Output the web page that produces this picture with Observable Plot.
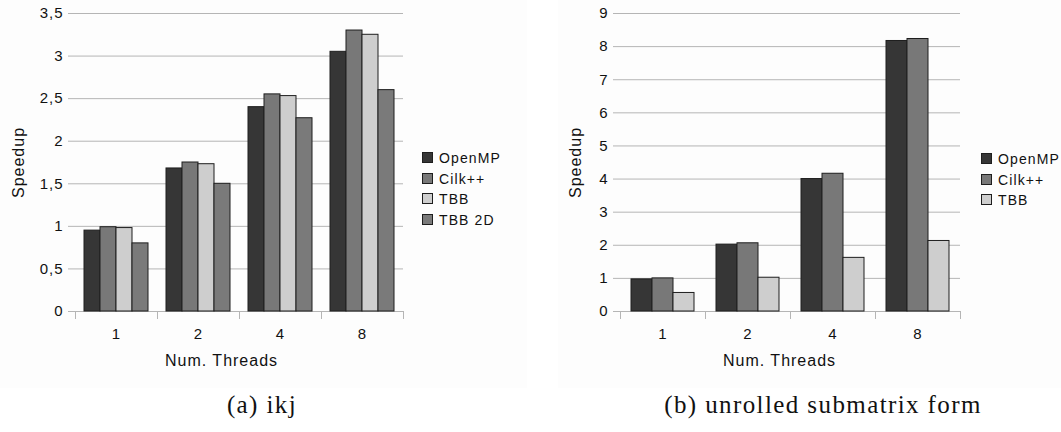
<!DOCTYPE html>
<html>
<head>
<meta charset="utf-8">
<script src="https://cdn.jsdelivr.net/npm/d3@7"></script>
<script src="https://cdn.jsdelivr.net/npm/@observablehq/plot@0.6"></script>
<style>
  html, body { margin: 0; padding: 0; background: #ffffff; }
  #figure { position: relative; width: 1061px; height: 432px; overflow: hidden; background: #ffffff; }
  .panel { position: absolute; background: #fdfdfd; }
  .legend { position: absolute; font-family: "Liberation Sans", Arial, sans-serif; font-size: 14px; letter-spacing: 1.1px; color: #111; }
  .legend .row { position: absolute; left: 0; height: 20px; line-height: 20px; white-space: nowrap; }
  .legend .sw { position: absolute; left: 0; top: 4px; width: 11px; height: 11px; border: 1px solid #1e1e1e; box-sizing: border-box; }
  .legend .lab { position: absolute; left: 17px; top: 0; }
  .caption { position: absolute; font-family: "Liberation Serif", "DejaVu Serif", serif; font-size: 25px; letter-spacing: 1.4px; color: #111; white-space: nowrap; transform: translateX(-50%); line-height: 30px; }
</style>
</head>
<body>
<div id="figure"></div>
<script>
// Thread counts on the x axis
const threads = ["1", "2", "4", "8"];
const xTitle = "Num. Threads";
const yTitle = "Speedup";

// (a) ikj loop order
const ikjSeries = ["OpenMP", "Cilk++", "TBB", "TBB 2D"];
const ikjOpenMP = [0.95, 1.68, 2.40, 3.05];
const ikjCilk   = [0.99, 1.75, 2.55, 3.30];
const ikjTBB    = [0.98, 1.73, 2.53, 3.25];
const ikjTBB2D  = [0.80, 1.50, 2.27, 2.60];
const ikjTicks  = [0, 0.5, 1, 1.5, 2, 2.5, 3, 3.5];

// (b) unrolled submatrix form
const unrolledSeries = ["OpenMP", "Cilk++", "TBB"];
const unrolledOpenMP = [0.97, 2.02, 4.00, 8.17];
const unrolledCilk   = [1.00, 2.06, 4.16, 8.23];
const unrolledTBB    = [0.56, 1.02, 1.62, 2.13];
const unrolledTicks  = [0, 1, 2, 3, 4, 5, 6, 7, 8, 9];

// Fill per implementation
const seriesColors = {"OpenMP": "#363636", "Cilk++": "#787878", "TBB": "#cecece", "TBB 2D": "#7a7a7a"};

const axisGray = "#b5b5b5";
const comma = d => String(d).replace(".", ",");

function speedupChart({series, values, ticks, width, marginLeft, marginRight, yLabelOffset, xLabelShift}) {
  const rows = threads.flatMap((t, i) =>
    series.map((s, j) => ({threads: t, series: s, value: values[j][i]})));
  const height = 370, marginTop = 13, marginBottom = 59;
  const inner = height - marginTop - marginBottom;
  return Plot.plot({
    width, height, marginTop, marginBottom, marginLeft, marginRight,
    style: {fontFamily: "'Liberation Sans', Arial, sans-serif", fontSize: "15px", letterSpacing: "1px", background: "transparent", color: "#111"},
    facet: {data: rows, x: "threads"},
    fx: {domain: threads, padding: 0},
    x: {domain: series, paddingInner: 0, paddingOuter: 0.48, axis: null},
    y: {domain: [ticks[0], ticks[ticks.length - 1]]},
    color: {domain: series, range: series.map(s => seriesColors[s])},
    marks: [
      Plot.gridY(ticks, {stroke: axisGray, strokeOpacity: 1}),
      // short ticks below the baseline at each group boundary
      Plot.frame({anchor: "left", stroke: axisGray, insetTop: inner, insetBottom: -7}),
      Plot.frame({anchor: "right", stroke: axisGray, insetTop: inner, insetBottom: -7}),
      Plot.axisY(ticks, {
        tickFormat: comma, tickSize: 7, tickPadding: 5, stroke: axisGray, line: true,
        label: null, fontSize: 15
      }),
      Plot.axisY({
        ticks: [], tickSize: 0, label: yTitle, labelAnchor: "center", labelOffset: yLabelOffset,
        labelArrow: "none", fontSize: 16, stroke: "none"
      }),
      Plot.axisY({anchor: "right", ticks: [], line: true, stroke: axisGray, label: null}),
      Plot.axisFx({anchor: "bottom", tickSize: 0, tickPadding: 17, fontSize: 15, label: null}),
      Plot.text([xTitle], {
        text: d => d, frameAnchor: "bottom", facet: "super",
        dy: 54, dx: xLabelShift, fontSize: 16, fill: "#111"
      }),
      Plot.barY(rows, {x: "series", y: "value", fill: "series", stroke: "#1e1e1e", strokeWidth: 1})
    ]
  });
}

function legend(series, left, top) {
  const el = document.createElement("div");
  el.className = "legend";
  el.style.left = left + "px";
  el.style.top = top + "px";
  series.forEach((s, i) => {
    const row = document.createElement("div");
    row.className = "row";
    row.style.top = (i * 20.6) + "px";
    const sw = document.createElement("div");
    sw.className = "sw";
    sw.style.background = seriesColors[s];
    const lab = document.createElement("span");
    lab.className = "lab";
    lab.textContent = s;
    row.append(sw, lab);
    el.append(row);
  });
  return el;
}

function place(node, left, top) {
  node.style.position = "absolute";
  node.style.left = left + "px";
  node.style.top = top + "px";
  return node;
}

const fig = document.getElementById("figure");

const panelA = place(document.createElement("div"), 0, 0);
panelA.className = "panel"; panelA.style.width = "527px"; panelA.style.height = "388px";
const panelB = place(document.createElement("div"), 558, 0);
panelB.className = "panel"; panelB.style.width = "503px"; panelB.style.height = "388px";
fig.append(panelA, panelB);

const chartA = speedupChart({
  series: ikjSeries, values: [ikjOpenMP, ikjCilk, ikjTBB, ikjTBB2D], ticks: ikjTicks,
  width: 420, marginLeft: 74, marginRight: 17, yLabelOffset: 63, xLabelShift: -18
});
const chartB = speedupChart({
  series: unrolledSeries, values: [unrolledOpenMP, unrolledCilk, unrolledTBB], ticks: unrolledTicks,
  width: 430, marginLeft: 79, marginRight: 9, yLabelOffset: 51, xLabelShift: -11
});
fig.append(place(chartA, 0, 0), place(chartB, 540, 0));

fig.append(legend(ikjSeries, 422, 148), legend(unrolledSeries, 981, 149));

const capA = place(document.createElement("div"), 262, 390);
capA.className = "caption"; capA.textContent = "(a) ikj";
const capB = place(document.createElement("div"), 823, 390);
capB.className = "caption"; capB.textContent = "(b) unrolled submatrix form";
fig.append(capA, capB);
</script>
</body>
</html>
